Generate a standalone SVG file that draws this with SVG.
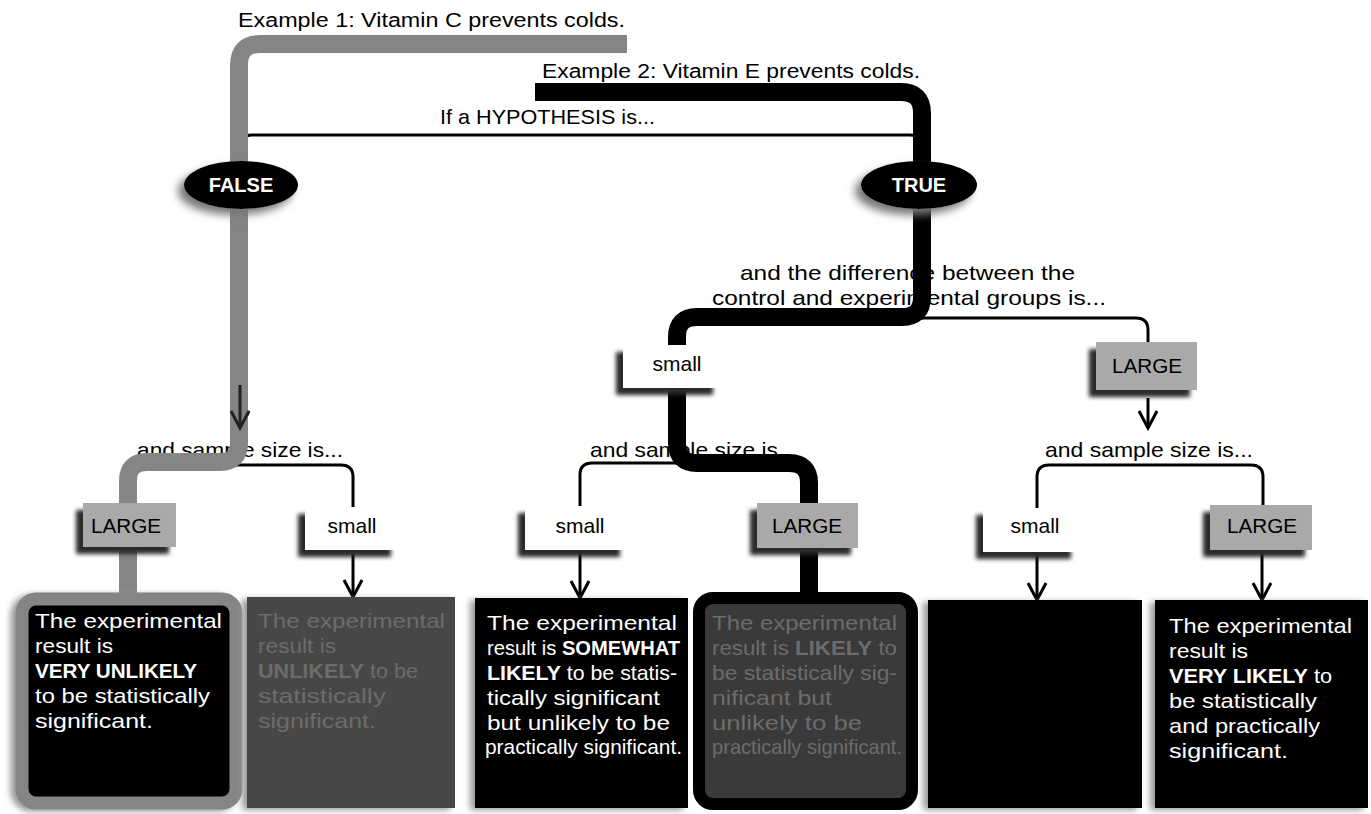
<svg xmlns="http://www.w3.org/2000/svg" width="1371" height="814" viewBox="0 0 1371 814">
<defs>
<style>
.t{font-family:"Liberation Sans",Arial,sans-serif;font-size:21px;fill:#000}
.tt{font-family:"Liberation Sans",Arial,sans-serif;font-size:20px;fill:#000}
.w{font-family:"Liberation Sans",Arial,sans-serif;font-size:21px;fill:#fff}
.g2{font-family:"Liberation Sans",Arial,sans-serif;font-size:21px;fill:#6c6c6c}
.b{font-weight:700}
.ell{font-family:"Liberation Sans",Arial,sans-serif;font-size:20px;font-weight:700;fill:#fff;text-anchor:middle}
.lab{font-family:"Liberation Sans",Arial,sans-serif;font-size:21px;fill:#000;text-anchor:middle}
.thin{fill:none;stroke:#000;stroke-width:3;stroke-linecap:round;stroke-linejoin:round}
.arr{fill:none;stroke:#000;stroke-width:3;marker-end:url(#ah)}
.bandg{fill:none;stroke:#858585;stroke-width:18;stroke-linejoin:round}
.bandk{fill:none;stroke:#000;stroke-width:18;stroke-linejoin:round}
.small{fill:#fff;filter:url(#ls)}
.large{fill:#a9a9a9;filter:url(#ls)}
</style>
<marker id="ah" markerUnits="userSpaceOnUse" markerWidth="24" markerHeight="24" viewBox="-20 -12 24 24" refX="0" refY="0" orient="auto">
<path d="M-17,-9 L0,0 L-17,9" fill="none" stroke="#000" stroke-width="3"/>
</marker>
<marker id="ahg" markerUnits="userSpaceOnUse" markerWidth="24" markerHeight="24" viewBox="-20 -12 24 24" refX="0" refY="0" orient="auto">
<path d="M-17,-9 L0,0 L-17,9" fill="none" stroke="#222" stroke-width="3"/>
</marker>
<filter id="ls" x="-30%" y="-40%" width="160%" height="180%">
<feGaussianBlur in="SourceAlpha" stdDeviation="2"/>
<feOffset dx="-7" dy="7" result="o"/>
<feFlood flood-color="#2a2a2a"/>
<feComposite in2="o" operator="in"/>
<feMerge><feMergeNode/><feMergeNode in="SourceGraphic"/></feMerge>
</filter>
<filter id="halo" x="-30%" y="-40%" width="160%" height="180%">
<feGaussianBlur in="SourceAlpha" stdDeviation="4"/>
<feOffset dx="-6" dy="6" result="o"/>
<feFlood flood-color="#777"/>
<feComposite in2="o" operator="in"/>
<feMerge><feMergeNode/><feMergeNode in="SourceGraphic"/></feMerge>
</filter>
<filter id="bh" x="-10%" y="-10%" width="120%" height="120%">
<feGaussianBlur in="SourceAlpha" stdDeviation="3"/>
<feOffset dx="-5" dy="2" result="o"/>
<feFlood flood-color="#999"/>
<feComposite in2="o" operator="in"/>
<feMerge><feMergeNode/><feMergeNode in="SourceGraphic"/></feMerge>
</filter>
</defs>
<rect width="1371" height="814" fill="#fff"/>

<g id="labels">
<text class="tt" x="238" y="27" textLength="387" lengthAdjust="spacingAndGlyphs">Example 1: Vitamin C prevents colds.</text>
<text class="tt" x="542" y="78" textLength="378" lengthAdjust="spacingAndGlyphs">Example 2: Vitamin E prevents colds.</text>
<text class="t" x="440" y="124" textLength="215" lengthAdjust="spacingAndGlyphs">If a HYPOTHESIS is...</text>
<text class="t" x="740" y="280" textLength="335" lengthAdjust="spacingAndGlyphs">and the difference between the</text>
<text class="t" x="712" y="305" textLength="394" lengthAdjust="spacingAndGlyphs">control and experimental groups is...</text>
<text class="t" x="137" y="457" textLength="206" lengthAdjust="spacingAndGlyphs">and sample size is...</text>
<text class="t" x="590" y="457" textLength="207" lengthAdjust="spacingAndGlyphs">and sample size is...</text>
<text class="t" x="1045" y="457" textLength="208" lengthAdjust="spacingAndGlyphs">and sample size is...</text>
</g>

<g id="connectors">
<path class="thin" d="M240 160 V147 Q240 135 252 135 H910 Q922 135 922 147 V160"/>
<path class="arr" d="M240 208 V428"/>
<path class="thin" d="M128 503 V477 Q128 465 140 465 H341 Q353 465 353 477 V507"/>
<path class="arr" d="M353 552 V597"/>
<path class="thin" d="M922 208 V318"/>
<path class="thin" d="M677 345 V330 Q677 318 689 318 H1136 Q1148 318 1148 330 V342"/>
<path class="arr" d="M1148 398 V428"/>
<path class="thin" d="M677 390 V463"/>
<path class="thin" d="M580 506 V475 Q580 463 592 463 H797 Q809 463 809 475 V503"/>
<path class="arr" d="M580 552 V598"/>
<path class="thin" d="M809 548 V592"/>
<path class="thin" d="M1037 508 V477 Q1037 465 1049 465 H1251 Q1263 465 1263 477 V505"/>
<path class="arr" d="M1037 552 V600"/>
<path class="arr" d="M1262 552 V600"/>
<path class="thin" d="M128 548 V592"/>
<path class="bandg" d="M627 44 H260 Q239 44 239 65 V443 Q239 462 220 462 H147 Q128 462 128 481 V596"/>
<path class="bandk" d="M535 92 H901 Q922 92 922 113 V297 Q922 317 902 317 H697 Q677 317 677 337 V443 Q677 463 697 463 H789 Q809 463 809 483 V596"/>
<path d="M240 385 V428" fill="none" stroke="#222" stroke-width="3" marker-end="url(#ahg)"/>
</g>

<g id="false">
<ellipse cx="241" cy="185" rx="57" ry="24" fill="#000" filter="url(#halo)"/>
<text class="ell" x="241" y="192">FALSE</text>
</g>
<g id="true">
<ellipse cx="919" cy="185" rx="58" ry="24" fill="#000" filter="url(#halo)"/>
<text class="ell" x="919" y="192">TRUE</text>
</g>

<g id="small-diff">
<rect class="small" x="623" y="345" width="97" height="43"/>
<text class="lab" x="677" y="371">small</text>
</g>
<g id="large-diff">
<rect class="large" x="1096" y="342" width="101" height="48"/>
<text class="lab" x="1147" y="373" textLength="70" lengthAdjust="spacingAndGlyphs">LARGE</text>
</g>

<g id="large-1">
<rect class="large" x="83" y="503" width="93" height="44"/>
<text class="lab" x="126" y="533" textLength="70" lengthAdjust="spacingAndGlyphs">LARGE</text>
</g>
<g id="small-1">
<rect class="small" x="305" y="507" width="93" height="43"/>
<text class="lab" x="352" y="533">small</text>
</g>
<g id="small-2">
<rect class="small" x="525" y="506" width="102" height="44"/>
<text class="lab" x="580" y="533">small</text>
</g>
<g id="large-2">
<rect class="large" x="757" y="503" width="101" height="45"/>
<text class="lab" x="807" y="533" textLength="70" lengthAdjust="spacingAndGlyphs">LARGE</text>
</g>
<g id="small-3">
<rect class="small" x="983" y="508" width="95" height="44"/>
<text class="lab" x="1035" y="533">small</text>
</g>
<g id="large-3">
<rect class="large" x="1210" y="505" width="102" height="45"/>
<text class="lab" x="1262" y="533" textLength="70" lengthAdjust="spacingAndGlyphs">LARGE</text>
</g>

<g id="result-1">
<rect x="22" y="599" width="214" height="204" rx="14" fill="#000" stroke="#858585" stroke-width="13" filter="url(#bh)"/>
<text class="w" x="35" y="628" textLength="187" lengthAdjust="spacingAndGlyphs">The experimental</text>
<text class="w" x="35" y="653" textLength="78" lengthAdjust="spacingAndGlyphs">result is</text>
<text class="w b" x="35" y="678" textLength="162" lengthAdjust="spacingAndGlyphs">VERY UNLIKELY</text>
<text class="w" x="35" y="703" textLength="175" lengthAdjust="spacingAndGlyphs">to be statistically</text>
<text class="w" x="35" y="728" textLength="118" lengthAdjust="spacingAndGlyphs">significant.</text>
</g>
<g id="result-2">
<rect x="247" y="597" width="208" height="211" fill="#474747" filter="url(#bh)"/>
<text class="g2" x="258" y="628" textLength="187" lengthAdjust="spacingAndGlyphs">The experimental</text>
<text class="g2" x="258" y="653" textLength="78" lengthAdjust="spacingAndGlyphs">result is</text>
<text class="g2" x="258" y="678" textLength="160" lengthAdjust="spacingAndGlyphs"><tspan class="b">UNLIKELY</tspan> to be</text>
<text class="g2" x="258" y="703" textLength="128" lengthAdjust="spacingAndGlyphs">statistically</text>
<text class="g2" x="258" y="728" textLength="118" lengthAdjust="spacingAndGlyphs">significant.</text>
</g>
<g id="result-3">
<rect x="475" y="598" width="213" height="210" fill="#000" filter="url(#bh)"/>
<text class="w" x="487" y="630" textLength="190" lengthAdjust="spacingAndGlyphs">The experimental</text>
<text class="w" x="487" y="655" textLength="193" lengthAdjust="spacingAndGlyphs">result is <tspan class="b">SOMEWHAT</tspan></text>
<text class="w" x="487" y="680" textLength="190" lengthAdjust="spacingAndGlyphs"><tspan class="b">LIKELY</tspan> to be statis-</text>
<text class="w" x="487" y="705" textLength="173" lengthAdjust="spacingAndGlyphs">tically significant</text>
<text class="w" x="487" y="730" textLength="183" lengthAdjust="spacingAndGlyphs">but unlikely to be</text>
<text class="w" x="485" y="754" textLength="197" lengthAdjust="spacingAndGlyphs">practically significant.</text>
</g>
<g id="result-4">
<rect x="699" y="598" width="213" height="206" rx="14" fill="#3a3a3a" stroke="#000" stroke-width="12"/>
<text class="g2" x="712" y="630" textLength="185" lengthAdjust="spacingAndGlyphs">The experimental</text>
<text class="g2" x="712" y="655" textLength="185" lengthAdjust="spacingAndGlyphs">result is <tspan class="b">LIKELY</tspan> to</text>
<text class="g2" x="712" y="680" textLength="185" lengthAdjust="spacingAndGlyphs">be statistically sig-</text>
<text class="g2" x="712" y="705" textLength="120" lengthAdjust="spacingAndGlyphs">nificant but</text>
<text class="g2" x="712" y="730" textLength="150" lengthAdjust="spacingAndGlyphs">unlikely to be</text>
<text class="g2" x="712" y="754" textLength="190" lengthAdjust="spacingAndGlyphs">practically significant.</text>
</g>
<g id="result-5">
<rect x="928" y="600" width="214" height="208" fill="#000" filter="url(#bh)"/>
</g>
<g id="result-6">
<rect x="1155" y="600" width="213" height="208" fill="#000" filter="url(#bh)"/>
<text class="w" x="1169" y="633" textLength="183" lengthAdjust="spacingAndGlyphs">The experimental</text>
<text class="w" x="1169" y="658" textLength="79" lengthAdjust="spacingAndGlyphs">result is</text>
<text class="w" x="1169" y="683" textLength="163" lengthAdjust="spacingAndGlyphs"><tspan class="b">VERY LIKELY</tspan> to</text>
<text class="w" x="1169" y="708" textLength="148" lengthAdjust="spacingAndGlyphs">be statistically</text>
<text class="w" x="1169" y="733" textLength="151" lengthAdjust="spacingAndGlyphs">and practically</text>
<text class="w" x="1169" y="758" textLength="119" lengthAdjust="spacingAndGlyphs">significant.</text>
</g>
</svg>
